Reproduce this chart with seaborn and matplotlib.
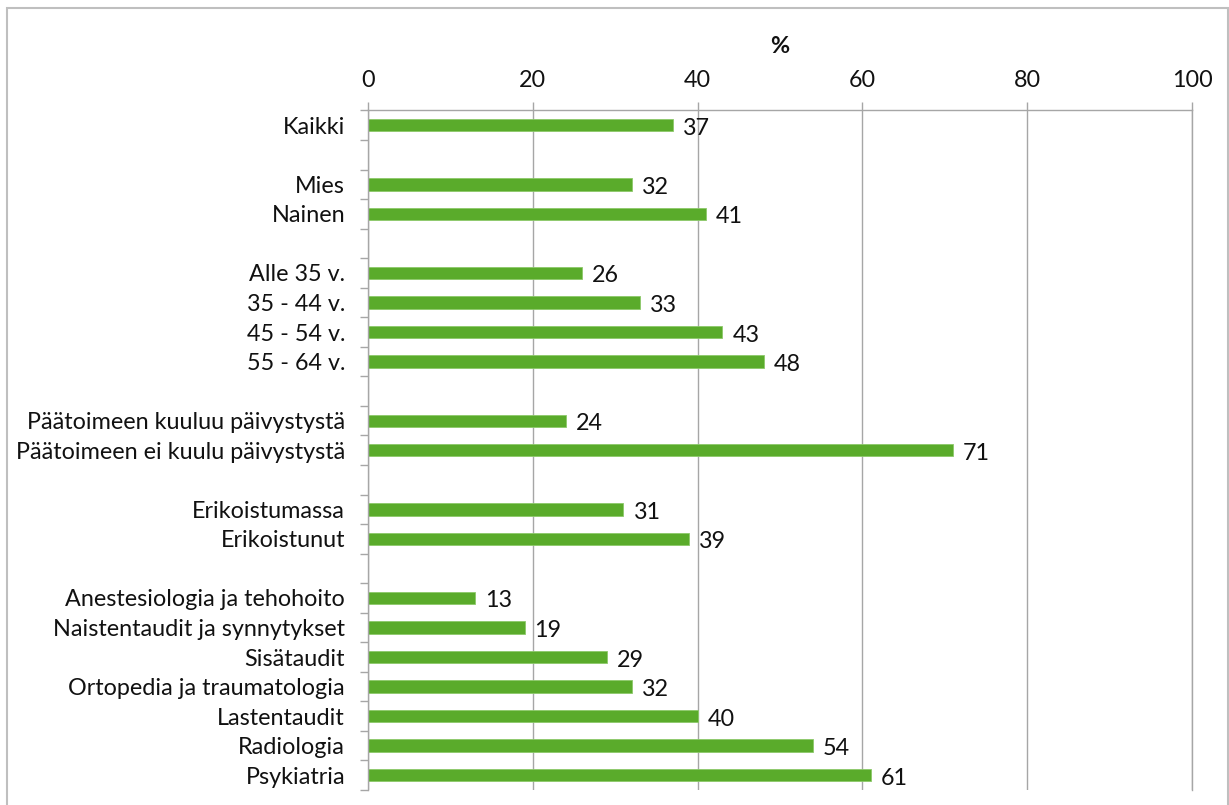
import matplotlib
matplotlib.use("Agg")
import matplotlib.pyplot as plt
from matplotlib.patches import Rectangle
from matplotlib.ticker import FixedLocator
import seaborn as sns
import pandas as pd

# Survey results by respondent group (%)
groups = [
    ["Kaikki"],
    ["Mies", "Nainen"],
    ["Alle 35 v.", "35 - 44 v.", "45 - 54 v.", "55 - 64 v."],
    ["Päätoimeen kuuluu päivystystä", "Päätoimeen ei kuulu päivystystä"],
    ["Erikoistumassa", "Erikoistunut"],
    ["Anestesiologia ja tehohoito", "Naistentaudit ja synnytykset", "Sisätaudit",
     "Ortopedia ja traumatologia", "Lastentaudit", "Radiologia", "Psykiatria"],
]
values = [37, 32, 41, 26, 33, 43, 48, 24, 71, 31, 39, 13, 19, 29, 32, 40, 54, 61]
x_ticks = [0, 20, 40, 60, 80, 100]

categories = [c for g in groups for c in g]
df = pd.DataFrame({"ryhma": categories, "osuus": values})

# Category order with empty spacer rows between the groups
order = []
for i, g in enumerate(groups):
    if i > 0:
        order.append(" " * i)
    order.extend(g)

sns.set_theme(style="white")
plt.rcParams["font.family"] = ["Lato", "DejaVu Sans"]
FS = 16.8

fig = plt.figure(figsize=(12.29, 8.05), dpi=100)
ax = fig.add_axes([368 / 1229, 1 - 790 / 805, (1192 - 368) / 1229, (790 - 110.5) / 805])

green = "#5aab2b"
grey = "#a6a6a6"
sns.barplot(data=df, x="osuus", y="ryhma", order=order, orient="h",
            color=green, saturation=1, width=0.42, ax=ax,
            edgecolor="#8cc96a", linewidth=0.6, err_kws={"linewidth": 0})

ax.set_xlim(0, 100)
ax.set_ylim(len(order) - 0.5, -0.5)

# x axis on top with vertical gridlines
ax.xaxis.tick_top()
ax.xaxis.set_label_position("top")
ax.set_xticks(x_ticks)
ax.set_xticklabels([str(t) for t in x_ticks], fontsize=FS, color="#111111")
ax.tick_params(axis="x", which="major", length=6, width=1, color=grey,
               pad=8, top=True, bottom=False)
ax.set_xlabel("%", fontsize=FS, fontweight="bold", labelpad=12, color="#111111")
ax.grid(axis="x", color=grey, linewidth=1)
ax.set_axisbelow(True)

# y axis: labels on categories, tick marks at row boundaries
ax.set_ylabel("")
ax.set_yticks(range(len(order)))
ax.set_yticklabels([o if o.strip() else "" for o in order], fontsize=FS, color="#111111")
ax.yaxis.set_minor_locator(FixedLocator([i - 0.5 for i in range(len(order) + 1)]))
ax.tick_params(axis="y", which="major", length=0, pad=16.5, left=True)
ax.tick_params(axis="y", which="minor", length=6, width=1, color=grey, left=True)

ax.spines["bottom"].set_visible(False)
for side in ["top", "left", "right"]:
    ax.spines[side].set_visible(True)
    ax.spines[side].set_color(grey)
    ax.spines[side].set_linewidth(1)

# value labels at bar ends
for cat, val in zip(categories, values):
    ax.annotate(f"{val}", xy=(val, order.index(cat)), xytext=(10, -3),
                textcoords="offset pixels", ha="left", va="center",
                fontsize=FS, color="#111111")

# outer frame of the chart area
fig.patches.append(Rectangle((7 / 1229, -0.05), (1228 - 7) / 1229, 1.05 - 8 / 805,
                             transform=fig.transFigure, fill=False,
                             edgecolor="#bfbfbf", linewidth=1.5))

fig.savefig("out.png", dpi=100)
